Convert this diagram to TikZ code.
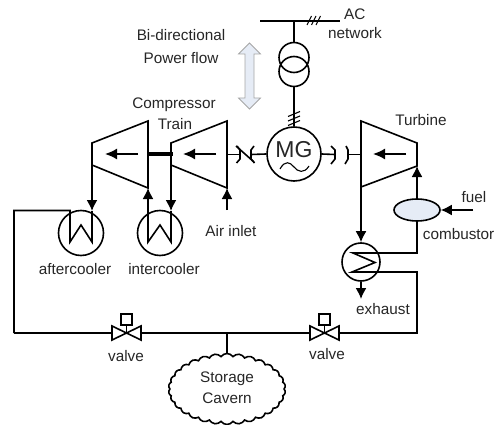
\documentclass[tikz,border=0pt]{standalone}
\usepackage{fontspec}
\setmainfont{Liberation Sans}
\usetikzlibrary{arrows.meta,shapes.symbols,shapes.geometric}
\definecolor{palefill}{HTML}{E6ECF6}
\definecolor{paleedge}{HTML}{A6A6A6}
\tikzset{
 pipe/.style={draw=black,line width=1.6pt,line join=miter},
 flow/.style={pipe,-{Latex[length=11pt,width=11pt]}},
 eqcircle/.style={circle,draw=black,line width=1.6pt,inner sep=0pt,fill=none},
 txt/.style={font=\fontsize{15.3}{17}\selectfont,text=black!85,inner sep=0pt},
 vbox/.style={draw=black,line width=1.6pt,fill=white,minimum size=11.5pt,inner sep=0pt},
}
\begin{document}
\begin{tikzpicture}[x=1pt,y=-1pt]
\useasboundingbox (0,0) rectangle (495,425);
% AC network
\coordinate (busL) at (260,21); \coordinate (busR) at (340,21); \coordinate (busT) at (294,21);
\draw[pipe] (busL)--(busR);
\foreach \x in {307,311.5,316} \draw[line width=1.1pt] (\x,25)--(\x+4.5,16);
\node[eqcircle,minimum size=30pt] (trA) at (294,57.5) {};
\node[eqcircle,minimum size=30pt] (trB) at (294,71.5) {};
\node[eqcircle,minimum size=54pt] (mg) at (294,154) {};
\node[font=\fontsize{23}{25}\selectfont,inner sep=0pt,text=black!85] (mgt) at (294,150) {MG};
\draw[line width=1.1pt] (280,169) .. controls (285,160) and (290,162) .. (294,167) .. controls (298,172) and (304,174) .. (309,166);
\draw[pipe] (busT)--(trA.north);
\draw[pipe] (trB.south)--(mg.north);
\foreach \y in {114,118.5,123} \draw[line width=1.1pt] (288,\y+2.5)--(300,\y-2.5);
\node[txt,anchor=west] (ac) at (344,14) {AC};
\node[txt] (net) at (355,33) {network};
% power flow arrow
\draw[draw=paleedge,fill=palefill,line width=.8pt,line join=miter]
 (249.5,43)--(260.5,54)--(254,54)--(254,98)--(260.5,98)--(249.5,109)--(238.5,98)--(245,98)--(245,54)--(238.5,54)--cycle;
\node[txt] (bi) at (181,35) {Bi-directional};
\node[txt] (pf) at (181,58) {Power flow};
% compressors
\draw[pipe] (92,143)--(148,121)--(148,188)--(92,165)--cycle;
\draw[pipe] (171,143)--(227,121)--(227,188)--(171,165)--cycle;
\draw[line width=3.6pt] (147,154)--(173,154);
\draw[pipe,-{Latex[length=12pt,width=11pt]}] (138,154)--(105,154);
\draw[pipe,-{Latex[length=12pt,width=11pt]}] (216,154)--(183,154);
\node[txt] (ct1) at (174,105) {Compressor};
\node[txt] (ct2) at (175,124) {Train};
% clutch left
\coordinate (c1) at (240,154.5); \coordinate (c2) at (251,154.5);
\draw[pipe] (227,154.5)--(c1);
\draw[pipe] (c2)--(mg.west);
\draw[pipe] (237,146)--(240,150)--(240,159)--(236.5,163);
\draw[pipe] (254,146)--(251,150)--(251,159)--(254.5,163);
\draw[pipe] (236,146)--(254,162);
% coupling right
\draw[pipe] (mg.east)--(335,154.5);
\draw[pipe] (331,146)--(335,150)--(335,159)--(331,164);
\draw[pipe] (347,154.5)--(361,154.5);
\draw[pipe] (346,146)--(348,150)--(348,159)--(345,164);
% coolers
\node[eqcircle,minimum size=45pt] (ac1) at (81,233) {};
\node[eqcircle,minimum size=45pt] (ic1) at (160,233) {};
\draw[flow] (92,165)--(92,211);
\draw[flow] (171,165)--(171,211);
\draw[flow] (148,211)--(148,188);
\draw[pipe] (14,333)--(14,210.5)--(70,210.5)--(70,242)--(81,225)--(92,242)--(92,211);
\draw[pipe] (148,211)--(148,242)--(160,225)--(171,242)--(171,211);
\draw[flow] (227,210)--(227,188);
\node[txt] (air) at (231,231) {Air inlet};
\node[txt] (acl) at (75,269) {aftercooler};
\node[txt] (icl) at (164,269) {intercooler};
% turbine
\draw[pipe] (361,121)--(417,143)--(417,166)--(361,187)--cycle;
\draw[pipe,-{Latex[length=12pt,width=11pt]}] (406,154)--(373,154);
\node[txt] (tu) at (421,120) {Turbine};
\node[ellipse,draw=black,line width=1.6pt,fill=palefill,minimum width=46pt,minimum height=22pt,inner sep=0pt] (cb) at (417,210) {};
\draw[flow] (cb.north)--(417,166);
\coordinate (fu) at (473,210);
\draw[flow] (fu)--(cb.east);
\node[txt] (fl) at (474,197) {fuel};
\node[txt,anchor=east] (cl) at (494.5,234) {combustor};
% heat exchanger
\node[eqcircle,minimum size=38pt] (hx) at (361,262) {};
\draw[flow] (361,187)--(hx.north);
\draw[pipe] (cb.south)--(417,253)--(353,253)--(375,262.5)--(352,272)--(417,272)--(417,333)--(339,333);
\draw[flow] (hx.south)--(361,299);
\node[txt] (ex) at (383,309) {exhaust};
% valves
\node[vbox] (vb1) at (126.5,319.5) {};
\node[vbox] (vb2) at (324.5,319.5) {};
\draw[pipe] (112,326)--(141,340)--(141,326)--(112,340)--cycle;
\draw[pipe] (310,326)--(339,340)--(339,326)--(310,340)--cycle;
\draw[pipe] (vb1.south)--(126.5,333);
\draw[pipe] (vb2.south)--(324.5,333);
\draw[pipe] (14,333)--(112,333);
\draw[pipe] (141,333)--(310,333);
\node[txt] (v1) at (126,356) {valve};
\node[txt] (v2) at (327,354) {valve};
% cavern
\node[cloud,cloud puffs=30,cloud puff arc=110,aspect=1.7,draw=black,line width=1.6pt,minimum width=117pt,minimum height=71pt,inner sep=0pt] (cav) at (227,389) {};
\node[txt,align=center] (st) at (227,379) {Storage};
\node[txt,align=center] (ca) at (227,398) {Cavern};
\draw[pipe] (227,333)--(cav.north);
\end{tikzpicture}
\end{document}
